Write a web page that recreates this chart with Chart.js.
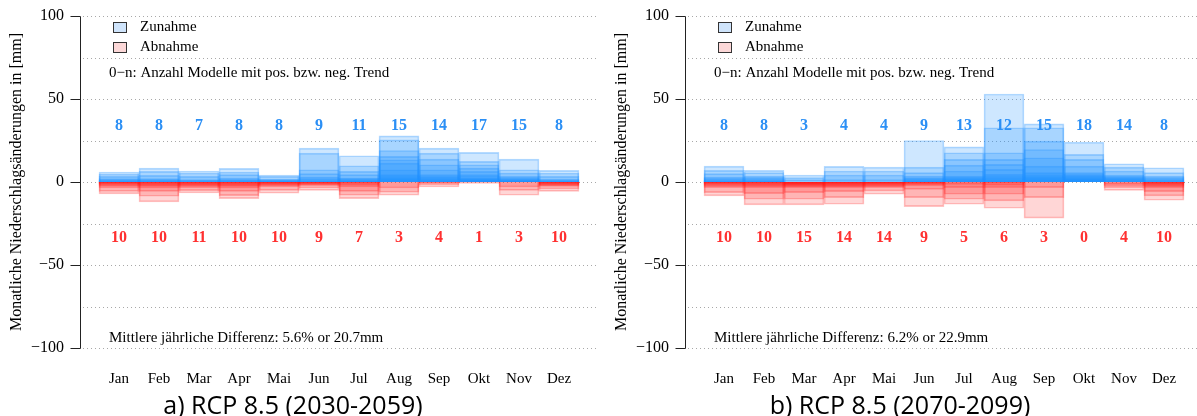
<!DOCTYPE html>
<html>
<head>
<meta charset="utf-8">
<script src="https://cdn.jsdelivr.net/npm/chart.js@4.4.1/dist/chart.umd.min.js"></script>
<style>
  html, body { margin: 0; padding: 0; background: #fff; overflow: hidden; }
  #wrap { position: relative; width: 1197px; height: 416px; }
  .panel { position: absolute; top: 0; width: 600px; height: 390px; }
  .cap { position: absolute; top: 389px; width: 600px; text-align: center;
         font-family: "Open Sans", sans-serif; font-size: 25px; line-height: 30px; color: #000; }
</style>
</head>
<body>
<div id="wrap">
  <div class="panel" style="left:0"><canvas id="chartA" width="600" height="390"></canvas></div>
  <div class="panel" style="left:605px"><canvas id="chartB" width="600" height="390"></canvas></div>
  <div class="cap" style="left:-7px">a) RCP 8.5 (2030-2059)</div>
  <div class="cap" style="left:600px">b) RCP 8.5 (2070-2099)</div>
</div>
<script>
const months = ['Jan', 'Feb', 'Mar', 'Apr', 'Mai', 'Jun', 'Jul', 'Aug', 'Sep', 'Okt', 'Nov', 'Dez'];
const yTicks = [-100, -50, 0, 50, 100];
const yGrid = [-100, -75, -50, -25, 0, 25, 50, 75, 100];

// model changes per month (mm), one value per model
const posA = [
    [6, 4.8, 3.4, 2, 1.5, 1, 0.6, 0.3],
    [8.4, 6.4, 4, 2, 1.5, 1, 0.6, 0.3],
    [6.6, 5.4, 3.4, 1.4, 1, 0.6, 0.3],
    [8.2, 6, 4.4, 2.4, 1.6, 1, 0.6, 0.3],
    [4.2, 3.4, 1.8, 1.4, 1, 0.7, 0.4, 0.2],
    [20.4, 17.4, 7.4, 5, 3, 2, 1.2, 0.6, 0.3],
    [15.8, 9.8, 6.4, 4.4, 2.4, 2, 1.5, 1, 0.6, 0.4, 0.2],
    [27.8, 25.4, 19, 15.4, 13.4, 11.4, 7.4, 4.4, 3.5, 2.5, 2, 1.5, 1, 0.6, 0.3],
    [20.4, 17.4, 13.8, 10.4, 7.4, 4.4, 3.5, 2.8, 2, 1.5, 1.1, 0.7, 0.4, 0.2],
    [17.8, 12.4, 10.4, 8.4, 6.4, 4.4, 3.6, 2.4, 2, 1.6, 1.3, 1, 0.8, 0.6, 0.4, 0.3, 0.1],
    [13.8, 7.4, 5.4, 3.4, 2.6, 2, 1.6, 1.3, 1, 0.8, 0.6, 0.5, 0.4, 0.2, 0.1],
    [7, 5.4, 3.4, 1.8, 1.3, 0.9, 0.5, 0.2]
];
const negA = [
    [-7.2, -5.6, -3.6, -2.6, -2, -1.5, -1, -0.7, -0.4, -0.2],
    [-12, -8.6, -5.6, -3.6, -2.6, -2, -1.4, -0.9, -0.5, -0.2],
    [-6.6, -5.2, -3.6, -2.8, -2.2, -1.7, -1.3, -0.9, -0.6, -0.3, -0.1],
    [-10, -8.2, -5.6, -3.6, -2.6, -2, -1.4, -0.9, -0.5, -0.2],
    [-6.8, -5, -3, -2.4, -1.9, -1.5, -1.1, -0.7, -0.4, -0.2],
    [-5, -3.6, -2.2, -1.7, -1.3, -1, -0.6, -0.4, -0.2],
    [-10, -8, -5.6, -3, -2, -1.2, -0.5],
    [-8, -6.2, -3.6],
    [-3, -1.6, -0.6, -0.3],
    [-0.8],
    [-8, -5, -3],
    [-5.6, -4.2, -2.6, -2.2, -1.8, -1.4, -1, -0.7, -0.4, -0.2]
];
const posB = [
    [9.6, 7, 5, 3, 2.2, 1.5, 0.9, 0.4],
    [7, 5.6, 3.6, 2.8, 2.1, 1.5, 0.9, 0.4],
    [4.2, 2.6, 1.4],
    [9.4, 6.6, 4.2, 1.5],
    [9, 6.6, 4.2, 1.5],
    [25, 9, 5.6, 3.6, 2.6, 2, 1.4, 0.8, 0.4],
    [21.2, 17.6, 13.6, 10.2, 6.6, 3.6, 3, 2.4, 1.9, 1.4, 1, 0.6, 0.3],
    [53, 32.7, 17.6, 13.6, 10.6, 7.6, 4.6, 3.6, 2.6, 1.8, 1.1, 0.5],
    [35, 32.7, 24.6, 19.6, 14.6, 9.6, 5.6, 4.5, 3.6, 2.8, 2.1, 1.5, 1, 0.6, 0.3],
    [24, 16.6, 13.6, 9.6, 5.6, 4.8, 4.1, 3.5, 3, 2.5, 2.1, 1.7, 1.4, 1.1, 0.8, 0.5, 0.3, 0.1],
    [11, 9, 6.6, 4.2, 3.5, 2.9, 2.4, 2, 1.6, 1.2, 0.9, 0.6, 0.3, 0.1],
    [8.6, 5.6, 3.6, 2.8, 2.1, 1.4, 0.8, 0.3]
];
const negB = [
    [-8.4, -6.4, -3.4, -2.6, -2, -1.5, -1.1, -0.7, -0.4, -0.2],
    [-13.8, -10.4, -7, -3.4, -2.6, -2, -1.4, -0.9, -0.5, -0.2],
    [-13.8, -10.4, -6.4, -3.4, -2.8, -2.3, -1.9, -1.6, -1.3, -1, -0.8, -0.6, -0.4, -0.2, -0.1],
    [-13.4, -9.4, -5.8, -3.4, -2.8, -2.3, -1.9, -1.5, -1.2, -0.9, -0.6, -0.4, -0.2, -0.1],
    [-7.4, -5.4, -3.4, -2.8, -2.3, -1.9, -1.5, -1.2, -0.9, -0.7, -0.5, -0.3, -0.2, -0.1],
    [-14.8, -9.4, -4.4, -2.4, -1.8, -1.3, -0.9, -0.5, -0.2],
    [-13.4, -10.4, -7.4, -3.4, -1.5],
    [-15.8, -11.4, -7.4, -3.4, -2, -0.8],
    [-21.8, -9.4, -3.4],
    [],
    [-5, -3.4, -2.4, -1.4],
    [-11, -8.4, -5.8, -3.4, -2.6, -2, -1.5, -1, -0.6, -0.3]
];

// number of models with positive / negative trend
const nPosA = [8, 8, 7, 8, 8, 9, 11, 15, 14, 17, 15, 8];
const nNegA = [10, 10, 11, 10, 10, 9, 7, 3, 4, 1, 3, 10];
const nPosB = [8, 8, 3, 4, 4, 9, 13, 12, 15, 18, 14, 8];
const nNegB = [10, 10, 15, 14, 14, 9, 5, 6, 3, 0, 4, 10];

const diffA = 'Mittlere jährliche Differenz: 5.6% or 20.7mm';
const diffB = 'Mittlere jährliche Differenz: 6.2% or 22.9mm';

const SERIF = '"Liberation Serif", "Times New Roman", serif';
const BLUE_FILL = 'rgba(30, 144, 255, 0.22)';
const BLUE_EDGE = 'rgba(30, 144, 255, 0.32)';
const RED_FILL = 'rgba(255, 30, 30, 0.18)';
const RED_EDGE = 'rgba(255, 30, 30, 0.27)';
const COUNT_Y = 33.7;

// one dataset per model rank so that bars of each month overlap
const buildDatasets = (pos, neg) => {
    const sets = [];
    const layers = (vals, fill, edge) => {
        const depth = Math.max(...vals.map(v => v.length));
        for (let k = 0; k < depth; k++) {
            sets.push({
                data: vals.map((v, i) => ({ x: i + 1, y: v[k] !== undefined ? v[k] : null })),
                backgroundColor: fill,
                borderColor: edge,
                borderWidth: 1,
                grouped: false,
                barPercentage: 1,
                categoryPercentage: 1
            });
        }
    };
    layers(pos, BLUE_FILL, BLUE_EDGE);
    layers(neg, RED_FILL, RED_EDGE);
    return sets;
};

const decorPlugin = (nPos, nNeg, diffText) => ({
    id: 'decor',
    beforeDatasetsDraw(chart) {
        const { ctx, chartArea: a, scales: { y } } = chart;
        ctx.save();
        ctx.strokeStyle = '#a8a8a8';
        ctx.lineWidth = 1;
        ctx.setLineDash([1, 3]);
        yGrid.forEach(v => {
            const py = Math.round(y.getPixelForValue(v)) + 0.5;
            ctx.beginPath();
            ctx.moveTo(a.left + 2, py);
            ctx.lineTo(a.right - 3, py);
            ctx.stroke();
        });
        ctx.setLineDash([]);
        ctx.strokeStyle = '#222';
        const ax = a.left - 0.5;
        ctx.beginPath();
        ctx.moveTo(ax, Math.round(y.getPixelForValue(100)) + 0.5);
        ctx.lineTo(ax, Math.round(y.getPixelForValue(-100)) + 0.5);
        ctx.stroke();
        yTicks.forEach(v => {
            const py = Math.round(y.getPixelForValue(v)) + 0.5;
            ctx.beginPath();
            ctx.moveTo(ax - 10, py);
            ctx.lineTo(ax, py);
            ctx.stroke();
        });
        ctx.restore();
    },
    afterDraw(chart) {
        const { ctx, chartArea: a, scales: { x, y } } = chart;
        ctx.save();
        ctx.textBaseline = 'middle';

        // y axis title
        ctx.save();
        ctx.translate(17, (a.top + a.bottom) / 2);
        ctx.rotate(-Math.PI / 2);
        ctx.textAlign = 'center';
        ctx.fillStyle = '#000';
        ctx.font = '16px ' + SERIF;
        ctx.fillText('Monatliche Niederschlagsänderungen in [mm]', 0, 0);
        ctx.restore();

        // legend
        const bx = a.left + 32;
        ctx.lineWidth = 1;
        ctx.fillStyle = '#cfe4fb';
        ctx.strokeStyle = '#333';
        ctx.fillRect(bx, 22, 13, 10);
        ctx.strokeRect(bx + 0.5, 22.5, 13, 10);
        ctx.fillStyle = '#fcd8d8';
        ctx.fillRect(bx, 42, 13, 10);
        ctx.strokeRect(bx + 0.5, 42.5, 13, 10);
        ctx.fillStyle = '#000';
        ctx.font = '15px ' + SERIF;
        ctx.textAlign = 'left';
        ctx.fillText('Zunahme', a.left + 59, 27);
        ctx.fillText('Abnahme', a.left + 59, 47);
        ctx.fillText('0\u2212n: Anzahl Modelle mit pos. bzw. neg. Trend', a.left + 28, 73);
        ctx.fillText(diffText, a.left + 28, 338);

        // model counts
        ctx.textAlign = 'center';
        ctx.font = 'bold 16px ' + SERIF;
        months.forEach((m, i) => {
            const px = x.getPixelForValue(i + 1);
            ctx.fillStyle = '#2b8ff5';
            ctx.fillText(String(nPos[i]), px, y.getPixelForValue(COUNT_Y));
            ctx.fillStyle = '#ff3030';
            ctx.fillText(String(nNeg[i]), px, y.getPixelForValue(-COUNT_Y));
        });
        ctx.restore();
    }
});

const makeChart = (id, pos, neg, nPos, nNeg, diffText) => new Chart(document.getElementById(id), {
    type: 'bar',
    data: { datasets: buildDatasets(pos, neg) },
    options: {
        responsive: false,
        animation: false,
        devicePixelRatio: 1,
        layout: { padding: { top: 16, left: 0, right: 0, bottom: 0 } },
        plugins: { legend: { display: false }, tooltip: { enabled: false } },
        scales: {
            x: {
                type: 'linear',
                offset: false,
                min: 0.05,
                max: 13.025,
                grid: { display: false, drawTicks: false },
                border: { display: false },
                afterBuildTicks: (scale) => { scale.ticks = months.map((m, i) => ({ value: i + 1 })); },
                afterFit: (scale) => {
                    scale.height = 42;
                    scale.paddingLeft = 0;
                    scale.paddingRight = 0;
                },
                ticks: {
                    autoSkip: false,
                    maxRotation: 0,
                    padding: 22,
                    color: '#000',
                    font: { family: SERIF, size: 15 },
                    callback: (v) => months[Math.round(v) - 1] || ''
                }
            },
            y: {
                min: -100,
                max: 100,
                grid: { display: false, drawTicks: false },
                border: { display: false },
                afterBuildTicks: (scale) => { scale.ticks = yTicks.map(v => ({ value: v })); },
                afterFit: (scale) => {
                    scale.width = 81;
                    scale.paddingTop = 0;
                    scale.paddingBottom = 0;
                },
                ticks: {
                    padding: 17,
                    color: '#000',
                    font: { family: SERIF, size: 16 },
                    callback: (v) => (v < 0 ? '\u2212' + Math.abs(v) : String(v))
                }
            }
        }
    },
    plugins: [decorPlugin(nPos, nNeg, diffText)]
});

makeChart('chartA', posA, negA, nPosA, nNegA, diffA);
makeChart('chartB', posB, negB, nPosB, nNegB, diffB);
</script>
</body>
</html>
